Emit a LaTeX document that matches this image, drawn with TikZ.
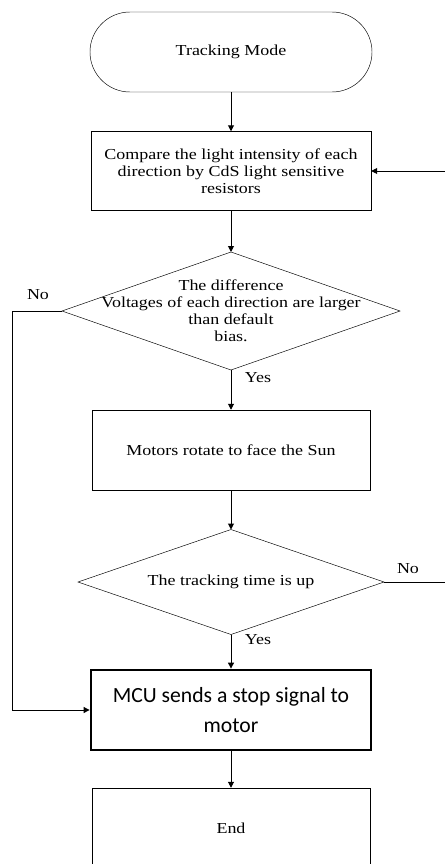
\documentclass[tikz,border=0pt]{standalone}
\usepackage{fontspec}
\setmainfont[FakeStretch=1.18]{Liberation Serif}
\newfontfamily\mcufont{Carlito}
\usepackage{tikz}
\usetikzlibrary{arrows.meta,positioning,calc,shapes.geometric}

\tikzset{
  flowtext/.style={font=\fontsize{13}{14.5}\selectfont,align=center},
  terminal/.style={draw,rounded corners=1.2cm,minimum width=8.46cm,minimum height=2.4cm,flowtext},
  process/.style={draw,minimum width=8.4cm,minimum height=2.4cm,flowtext},
  decision/.style={draw,diamond,inner sep=0pt,outer sep=0pt},
  flowarrow/.style={-{Triangle[width=5pt,length=5pt]},line width=0.8pt},
  answer/.style={font=\fontsize{13}{14.5}\selectfont}
}

\begin{document}
\begin{tikzpicture}[x=0.03cm,y=-0.03cm]
  \useasboundingbox (0,0) rectangle (444,864);
  % main column
  \node[terminal] (start) at (231,52) {Tracking Mode};
  \node[process,minimum height=2.37cm] (compare) at (231,171)
    {Compare the light intensity of each\\direction by CdS light sensitive\\resistors};
  \node[decision,minimum width=10.14cm,minimum height=3.54cm] (diff) at (231,311) {};
  \node[flowtext] at (diff) {The difference\\Voltages of each direction are larger\\than default\\bias.};
  \node[process,minimum width=8.34cm] (rotate) at (231,450) {Motors rotate to face the Sun};
  \node[decision,minimum width=9.18cm,minimum height=3.15cm] (timeup) at (231,582) {};
  \node[flowtext] at (timeup) {The tracking time is up};
  \node[process,line width=2.4pt,font=\mcufont\fontsize{18.5}{25}\selectfont] (stop) at (231,710)
    {MCU sends a stop signal to\\motor};
  \node[process,minimum width=8.34cm] (finish) at (231,828) {End};

  \draw[flowarrow] (start) -- (compare);
  \draw[flowarrow] (compare) -- (diff);
  \draw[flowarrow] (diff) -- (rotate);
  \draw[flowarrow] (rotate) -- (timeup);
  \draw[flowarrow] (timeup) -- (stop);
  \draw[flowarrow] (stop) -- (finish);

  % loops
  \coordinate (leftrail) at (12,311);
  \coordinate (rightrail) at (448,582);
  \draw[flowarrow] (diff.west) -- (leftrail) |- (stop.west);
  \draw[flowarrow] (timeup.east) -- (rightrail) |- (compare.east);

  \node[answer] (no1) at (38,295) {No};
  \node[answer] (yes1) at (258,378) {Yes};
  \node[answer] (no2) at (408,569) {No};
  \node[answer] (yes2) at (258,640) {Yes};
\end{tikzpicture}
\end{document}
